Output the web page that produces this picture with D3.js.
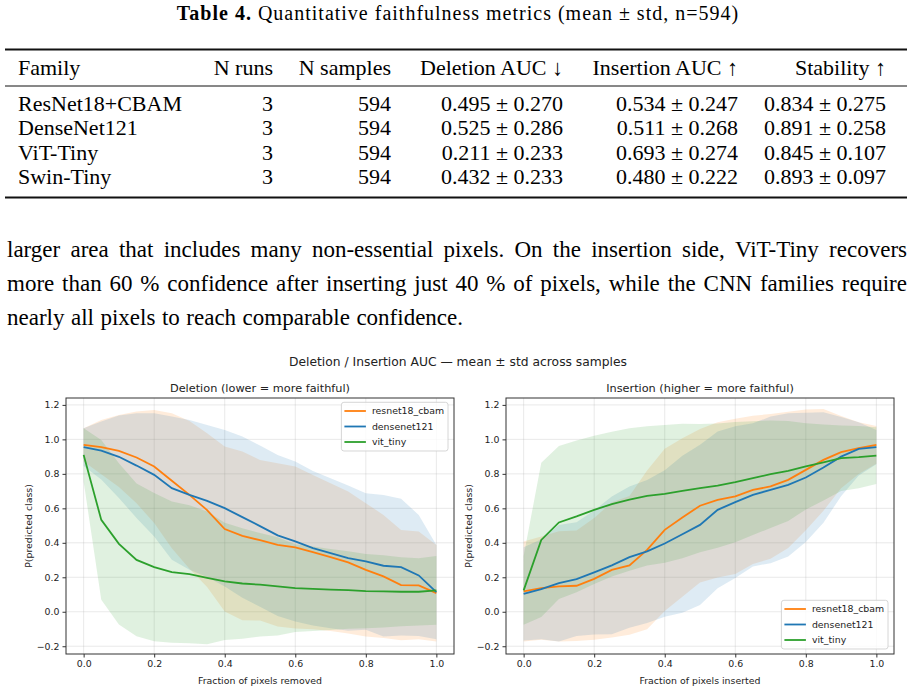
<!DOCTYPE html>
<html>
<head>
<meta charset="utf-8">
<script src="https://cdn.jsdelivr.net/npm/d3@7"></script>
<style>
  body { margin: 0; background: #fff; }
  svg { display: block; }
</style>
</head>
<body>
<div id="canvas"></div>
<script>
// ---- table data ----
var tableHeaders = ["Family", "N runs", "N samples", "Deletion AUC \u2193", "Insertion AUC \u2191", "Stability \u2191"];
var families = ["ResNet18+CBAM", "DenseNet121", "ViT-Tiny", "Swin-Tiny"];
var nRuns = ["3", "3", "3", "3"];
var nSamples = ["594", "594", "594", "594"];
var deletionAuc = ["0.495 \u00b1 0.270", "0.525 \u00b1 0.286", "0.211 \u00b1 0.233", "0.432 \u00b1 0.233"];
var insertionAuc = ["0.534 \u00b1 0.247", "0.511 \u00b1 0.268", "0.693 \u00b1 0.274", "0.480 \u00b1 0.222"];
var stability = ["0.834 \u00b1 0.275", "0.891 \u00b1 0.258", "0.845 \u00b1 0.107", "0.893 \u00b1 0.097"];

var paragraphLines = [
  "larger area that includes many non-essential pixels.  On the insertion side, ViT-Tiny recovers",
  "more than 60 % confidence after inserting just 40 % of pixels, while the CNN families require",
  "nearly all pixels to reach comparable confidence."
];

// ---- curve data (mean and std per fraction) ----
var fractions = [0, 0.05, 0.1, 0.15, 0.2, 0.25, 0.3, 0.35, 0.4, 0.45, 0.5, 0.55, 0.6, 0.65, 0.7, 0.75, 0.8, 0.85, 0.9, 0.95, 1.0];

var delResnet    = [0.968, 0.955, 0.933, 0.895, 0.843, 0.760, 0.678, 0.590, 0.480, 0.440, 0.415, 0.388, 0.373, 0.346, 0.317, 0.286, 0.243, 0.205, 0.155, 0.153, 0.108];
var delResnetStd = [0.097, 0.158, 0.209, 0.266, 0.328, 0.392, 0.429, 0.446, 0.478, 0.489, 0.466, 0.474, 0.470, 0.448, 0.429, 0.412, 0.387, 0.357, 0.320, 0.313, 0.280];
var delDense     = [0.955, 0.935, 0.899, 0.848, 0.794, 0.717, 0.678, 0.643, 0.601, 0.549, 0.497, 0.443, 0.408, 0.369, 0.340, 0.311, 0.292, 0.267, 0.259, 0.211, 0.114];
var delDenseStd  = [0.110, 0.168, 0.239, 0.304, 0.358, 0.415, 0.435, 0.441, 0.454, 0.467, 0.468, 0.467, 0.464, 0.448, 0.435, 0.421, 0.396, 0.411, 0.396, 0.351, 0.274];
var delVit       = [0.910, 0.533, 0.394, 0.301, 0.259, 0.230, 0.218, 0.197, 0.176, 0.164, 0.157, 0.147, 0.137, 0.133, 0.129, 0.126, 0.120, 0.118, 0.116, 0.116, 0.124];
var delVitStd    = [0.155, 0.464, 0.468, 0.443, 0.430, 0.410, 0.400, 0.385, 0.340, 0.320, 0.300, 0.285, 0.255, 0.245, 0.235, 0.225, 0.215, 0.210, 0.200, 0.195, 0.200];

var insResnet    = [0.118, 0.137, 0.147, 0.151, 0.191, 0.243, 0.269, 0.359, 0.475, 0.547, 0.615, 0.649, 0.669, 0.707, 0.727, 0.765, 0.823, 0.881, 0.926, 0.949, 0.968];
var insResnetStd = [0.290, 0.300, 0.320, 0.320, 0.353, 0.392, 0.402, 0.460, 0.470, 0.460, 0.445, 0.450, 0.450, 0.430, 0.420, 0.395, 0.350, 0.295, 0.210, 0.150, 0.110];
var insDense     = [0.104, 0.131, 0.166, 0.189, 0.228, 0.269, 0.317, 0.350, 0.396, 0.450, 0.504, 0.591, 0.636, 0.678, 0.707, 0.736, 0.779, 0.837, 0.900, 0.945, 0.955];
var insDenseStd  = [0.270, 0.290, 0.338, 0.330, 0.360, 0.400, 0.410, 0.415, 0.425, 0.455, 0.465, 0.455, 0.440, 0.415, 0.425, 0.415, 0.375, 0.320, 0.230, 0.155, 0.100];
var insVit       = [0.124, 0.417, 0.518, 0.553, 0.591, 0.624, 0.651, 0.672, 0.684, 0.701, 0.717, 0.732, 0.752, 0.775, 0.798, 0.817, 0.843, 0.866, 0.891, 0.897, 0.906];
var insVitStd    = [0.200, 0.447, 0.444, 0.440, 0.430, 0.420, 0.413, 0.404, 0.400, 0.390, 0.372, 0.360, 0.349, 0.330, 0.312, 0.290, 0.250, 0.220, 0.190, 0.180, 0.165];

var modelNames = ["resnet18_cbam", "densenet121", "vit_tiny"];
var modelColors = ["#ff7f0e", "#1f77b4", "#2ca02c"];
var xTicks = [0, 0.2, 0.4, 0.6, 0.8, 1.0];
var yTicks = [-0.2, 0, 0.2, 0.4, 0.6, 0.8, 1.0, 1.2];

var w = 914, h = 692;
var serif = "'Liberation Serif', 'DejaVu Serif', serif";
var sans = "'DejaVu Sans', sans-serif";

var svg = d3.select("#canvas").append("svg")
    .attr("width", w)
    .attr("height", h)
    .style("background", "#fff");

// ---- table ----
var caption = svg.append("text")
    .attr("x", 458).attr("y", 20)
    .attr("text-anchor", "middle")
    .style("font-family", serif).style("font-size", "20px")
    .style("letter-spacing", "1px");
caption.append("tspan").style("font-weight", "bold").text("Table 4.");
caption.append("tspan").text(" Quantitative faithfulness metrics (mean \u00b1 std, n=594)");

svg.append("line").attr("x1", 5).attr("x2", 907).attr("y1", 49.5).attr("y2", 49.5)
    .attr("stroke", "#111").attr("stroke-width", 1.8);
svg.append("line").attr("x1", 5).attr("x2", 907).attr("y1", 86).attr("y2", 86)
    .attr("stroke", "#111").attr("stroke-width", 1);
svg.append("line").attr("x1", 5).attr("x2", 907).attr("y1", 197.5).attr("y2", 197.5)
    .attr("stroke", "#111").attr("stroke-width", 1.8);

// column x anchors: first is left-aligned, the rest right-aligned
var colX = [18, 273, 391, 563, 738, 886];
var colAnchor = ["start", "end", "end", "end", "end", "end"];
var columns = [families, nRuns, nSamples, deletionAuc, insertionAuc, stability];
var rowBase = [110.5, 135, 159.5, 184];
var tableFont = "22px";

tableHeaders.forEach(function(t, i) {
    svg.append("text")
        .attr("x", colX[i]).attr("y", 75)
        .attr("text-anchor", colAnchor[i])
        .style("font-family", serif).style("font-size", tableFont)
        .text(t);
});
columns.forEach(function(col, i) {
    col.forEach(function(t, r) {
        svg.append("text")
            .attr("x", colX[i]).attr("y", rowBase[r])
            .attr("text-anchor", colAnchor[i])
            .style("font-family", serif).style("font-size", tableFont)
            .text(t);
    });
});

// ---- paragraph, justified word by word ----
var paraLeft = 7, paraRight = 907;
var paraBase = [257, 291, 325];
paragraphLines.forEach(function(line, li) {
    var words = line.split(/\s+/);
    var g = svg.append("g");
    var nodes = words.map(function(wd) {
        return g.append("text")
            .attr("y", paraBase[li])
            .style("font-family", serif).style("font-size", "23px")
            .text(wd);
    });
    var widths = nodes.map(function(n) { return n.node().getComputedTextLength(); });
    var total = d3.sum(widths);
    var last = li === paragraphLines.length - 1;
    var gap = last ? 6.5 : (paraRight - paraLeft - total) / (words.length - 1);
    var x = paraLeft;
    nodes.forEach(function(n, i) {
        n.attr("x", x);
        x += widths[i] + gap;
    });
});

// ---- charts ----
svg.append("text")
    .attr("x", 458).attr("y", 365.5)
    .attr("text-anchor", "middle")
    .style("font-family", sans).style("font-size", "12.3px").style("fill", "#222")
    .text("Deletion / Insertion AUC \u2014 mean \u00b1 std across samples");

var plotTop = 398, plotBottom = 654;

function drawPanel(cfg) {
    var x = d3.scaleLinear().domain([-0.05, 1.05]).range([cfg.left, cfg.right]);
    var y = d3.scaleLinear().domain([-0.245, 1.24]).range([plotBottom, plotTop]);
    var g = svg.append("g");

    var clipId = "clip" + cfg.id;
    g.append("clipPath").attr("id", clipId)
        .append("rect")
        .attr("x", cfg.left).attr("y", plotTop)
        .attr("width", cfg.right - cfg.left).attr("height", plotBottom - plotTop);

    // grid
    g.append("g").selectAll("line").data(xTicks).join("line")
        .attr("x1", d => x(d)).attr("x2", d => x(d))
        .attr("y1", plotTop).attr("y2", plotBottom)
        .attr("stroke", "#b0b0b0").attr("stroke-opacity", 0.35).attr("stroke-width", 0.8);
    g.append("g").selectAll("line").data(yTicks).join("line")
        .attr("x1", cfg.left).attr("x2", cfg.right)
        .attr("y1", d => y(d)).attr("y2", d => y(d))
        .attr("stroke", "#b0b0b0").attr("stroke-opacity", 0.35).attr("stroke-width", 0.8);

    var plot = g.append("g").attr("clip-path", "url(#" + clipId + ")");

    var area = d3.area()
        .x((d, i) => x(fractions[i]))
        .y0(d => y(d.m - d.s))
        .y1(d => y(d.m + d.s));
    var line = d3.line()
        .x((d, i) => x(fractions[i]))
        .y(d => y(d));

    cfg.series.forEach(function(s, k) {
        var pts = s.mean.map((m, i) => ({m: m, s: s.std[i]}));
        plot.append("path")
            .attr("d", area(pts))
            .attr("fill", modelColors[k])
            .attr("fill-opacity", 0.15);
    });
    cfg.series.forEach(function(s, k) {
        plot.append("path")
            .attr("d", line(s.mean))
            .attr("fill", "none")
            .attr("stroke", modelColors[k])
            .attr("stroke-width", 1.8);
    });

    // frame
    g.append("rect")
        .attr("x", cfg.left).attr("y", plotTop)
        .attr("width", cfg.right - cfg.left).attr("height", plotBottom - plotTop)
        .attr("fill", "none").attr("stroke", "#333").attr("stroke-width", 1);

    // axes
    var xa = g.append("g").attr("transform", `translate(0,${plotBottom})`)
        .call(d3.axisBottom(x).tickValues(xTicks).tickFormat(d3.format(".1f")).tickSize(3.5).tickPadding(3));
    var ya = g.append("g").attr("transform", `translate(${cfg.left},0)`)
        .call(d3.axisLeft(y).tickValues(yTicks).tickFormat(d3.format(".1f")).tickSize(3.5).tickPadding(3));
    [xa, ya].forEach(function(a) {
        a.select(".domain").remove();
        a.selectAll(".tick line").attr("stroke", "#333");
        a.selectAll(".tick text")
            .style("font-family", sans).style("font-size", "9.4px").style("fill", "#222");
    });

    // titles and labels
    g.append("text")
        .attr("x", (cfg.left + cfg.right) / 2).attr("y", 392)
        .attr("text-anchor", "middle")
        .style("font-family", sans).style("font-size", "11.3px").style("fill", "#222")
        .text(cfg.title);
    g.append("text")
        .attr("x", (cfg.left + cfg.right) / 2).attr("y", 683.5)
        .attr("text-anchor", "middle")
        .style("font-family", sans).style("font-size", "9.4px").style("fill", "#222")
        .text(cfg.xlabel);
    g.append("text")
        .attr("transform", `translate(${cfg.left - 34},${(plotTop + plotBottom) / 2}) rotate(-90)`)
        .attr("text-anchor", "middle")
        .style("font-family", sans).style("font-size", "9.4px").style("fill", "#222")
        .text("P(predicted class)");

    // legend
    var lw = 106.6, lh = 48.7;
    var lx = cfg.right - 6 - lw;
    var ly = cfg.legendTop ? plotTop + 4.3 : plotBottom - 5 - lh;
    var lg = g.append("g").attr("transform", `translate(${lx},${ly})`);
    lg.append("rect")
        .attr("width", lw).attr("height", lh).attr("rx", 2.5)
        .attr("fill", "#fff").attr("fill-opacity", 0.8)
        .attr("stroke", "#ccc").attr("stroke-width", 0.8);
    modelNames.forEach(function(name, k) {
        var yy = 8.7 + k * 15.5;
        lg.append("line")
            .attr("x1", 3).attr("x2", 24.5)
            .attr("y1", yy).attr("y2", yy)
            .attr("stroke", modelColors[k]).attr("stroke-width", 1.8);
        lg.append("text")
            .attr("x", 30.5).attr("y", yy + 3.3)
            .style("font-family", sans).style("font-size", "9.4px").style("fill", "#222")
            .text(name);
    });
}

drawPanel({
    id: "del", left: 66, right: 454,
    title: "Deletion (lower = more faithful)",
    xlabel: "Fraction of pixels removed",
    legendTop: true,
    series: [
        {mean: delResnet, std: delResnetStd},
        {mean: delDense, std: delDenseStd},
        {mean: delVit, std: delVitStd}
    ]
});

drawPanel({
    id: "ins", left: 506, right: 894,
    title: "Insertion (higher = more faithful)",
    xlabel: "Fraction of pixels inserted",
    legendTop: false,
    series: [
        {mean: insResnet, std: insResnetStd},
        {mean: insDense, std: insDenseStd},
        {mean: insVit, std: insVitStd}
    ]
});
</script>
</body>
</html>
